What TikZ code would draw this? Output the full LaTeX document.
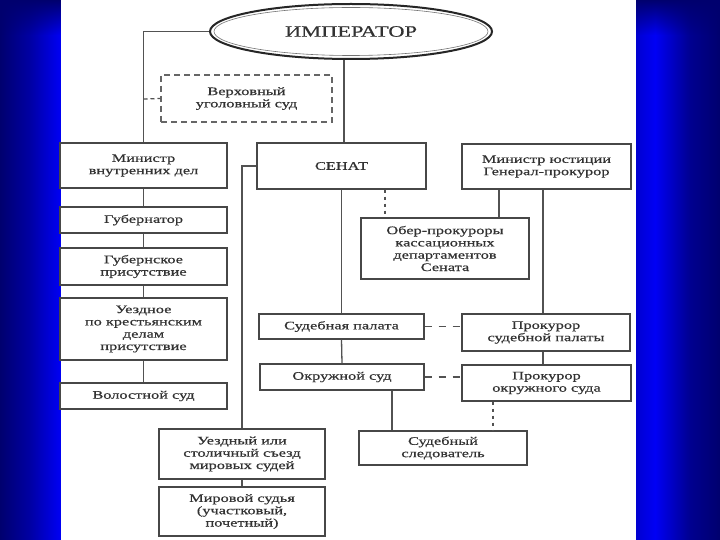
\documentclass[tikz,border=0pt]{standalone}
\usepackage{fontspec}
\setmainfont{Liberation Serif}[FakeStretch=1.42,FakeBold=0.6]
\usetikzlibrary{shapes.geometric,fadings}
\definecolor{navy}{RGB}{0,0,110}
\definecolor{bblue}{RGB}{0,0,245}
\definecolor{ink}{RGB}{50,50,50}
\tikzset{
  box/.style={draw=black!72,line width=1.3pt,fill=white,inner sep=0pt,align=center,
    text=ink,font=\fontsize{11.5}{12.3}\selectfont},
  vbox/.style={box,draw=black!60,line width=1.2pt,dash pattern=on 6pt off 4pt},
  conn/.style={draw=black!68,line width=1.3pt},
  dashconn/.style={conn,dash pattern=on 7pt off 7pt},
  dotconn/.style={conn,dash pattern=on 3pt off 4pt},
}
\begin{document}
\begin{tikzpicture}[x=1pt,y=-1pt]
\useasboundingbox (0,0) rectangle (720,540);
% background
\fill[white] (0,0) rectangle (720,540);
\shade[left color=navy,right color=navy!60!bblue] (0,0) rectangle (30,540);
\shade[left color=navy!60!bblue,right color=bblue] (30,0) rectangle (61,540);
\shade[left color=bblue!85!black,right color=bblue] (636,0) rectangle (655,540);
\shade[left color=bblue,right color=navy!75!bblue] (655,0) rectangle (690,540);
\shade[left color=navy!75!bblue,right color=navy] (690,0) rectangle (720,540);
\fill[navy,path fading=south] (0,0) rectangle (61,35);
\fill[navy,path fading=south] (636,0) rectangle (720,35);
\fill[white] (61,0) rectangle (636,540);

% coordinates for vertical connector lines
\coordinate (x385) at (385,0);
\coordinate (x392) at (392,0);
\coordinate (x493) at (493,0);
\coordinate (x499) at (499,0);
\coordinate (x543) at (543,0);
\coordinate (x344) at (344,0);

% nodes
\node[draw=black!85,line width=2pt,ellipse,minimum width=282,minimum height=55,inner sep=0pt,
  text=ink,font=\fontsize{15.8}{17}\selectfont] (emp) at (351,31.5) {ИМПЕРАТОР};
\draw[black!55,line width=0.6pt] (351,31.5) ellipse [x radius=137,y radius=24];

\node[vbox,minimum width=171,minimum height=47] (vus) at (246.5,98.5) {Верховный\\уголовный суд};

\node[box,minimum width=167,minimum height=45] (mvd) at (143.5,165.5) {Министр\\внутренних дел};
\node[box,minimum width=167,minimum height=26] (gub) at (143.5,220) {Губернатор};
\node[box,minimum width=167,minimum height=37] (gp) at (143.5,266.5) {Губернское\\присутствие};
\node[box,minimum width=167,minimum height=62] (uezd) at (143.5,329) {Уездное\\по крестьянским\\делам\\присутствие};
\node[box,minimum width=167,minimum height=26] (vol) at (143.5,396) {Волостной суд};

\node[box,minimum width=169,minimum height=46] (sen) at (341.5,166) {СЕНАТ};
\node[box,minimum width=169,minimum height=45] (mj) at (546.5,166.5) {Министр юстиции\\Генерал-прокурор};
\node[box,minimum width=168,minimum height=61] (ober) at (445,248.5) {Обер-прокуроры\\кассационных\\департаментов\\Сената};

\node[box,minimum width=165,minimum height=25] (sp) at (341.5,326.5) {Судебная палата};
\node[box,minimum width=168,minimum height=37] (psp) at (546,332.5) {Прокурор\\судебной палаты};
\node[box,minimum width=164,minimum height=26] (ok) at (342,377) {Окружной суд};
\node[box,minimum width=169,minimum height=36] (pos) at (546.5,383) {Прокурор\\окружного суда};

\node[box,minimum width=166,minimum height=50] (sz) at (242,454) {Уездный или\\столичный съезд\\мировых судей};
\node[box,minimum width=166,minimum height=49] (ms) at (242,511.5) {Мировой судья\\(участковый,\\почетный)};
\node[box,minimum width=168,minimum height=34] (ss) at (443,448) {Судебный\\следователь};

% connectors
\coordinate (vj) at (143.5,99);
\draw[conn] (emp.west) -| (mvd.north);
\draw[dashconn,dash pattern=on 4pt off 3pt] (vj) -- (vus.west);
\draw[conn] (emp.south -| x344) -- (sen.north -| x344);
\draw[conn] (mvd) -- (gub);
\draw[conn] (gub) -- (gp);
\draw[conn] (gp) -- (uezd);
\draw[conn] (uezd) -- (vol);
\draw[conn] (sen.west) -| (sz.north);
\draw[conn] (sz) -- (ms);
\draw[conn] (sen.south) -- (sp.north);
\draw[conn] (sp.south) -- (ok.north);
\draw[dotconn] (sen.south -| x385) -- (ober.north -| x385);
\draw[conn] (mj.south -| x499) -- (ober.north -| x499);
\draw[conn] (mj.south -| x543) -- (psp.north -| x543);
\draw[conn] (psp.south -| x543) -- (pos.north -| x543);
\draw[dashconn] (sp.east) -- (psp.west |- sp.east);
\draw[dashconn] (ok.east) -- (pos.west |- ok.east);
\draw[conn] (ok.south -| x392) -- (ss.north -| x392);
\draw[dotconn] (pos.south -| x493) -- (ss.north -| x493);
\end{tikzpicture}
\end{document}
